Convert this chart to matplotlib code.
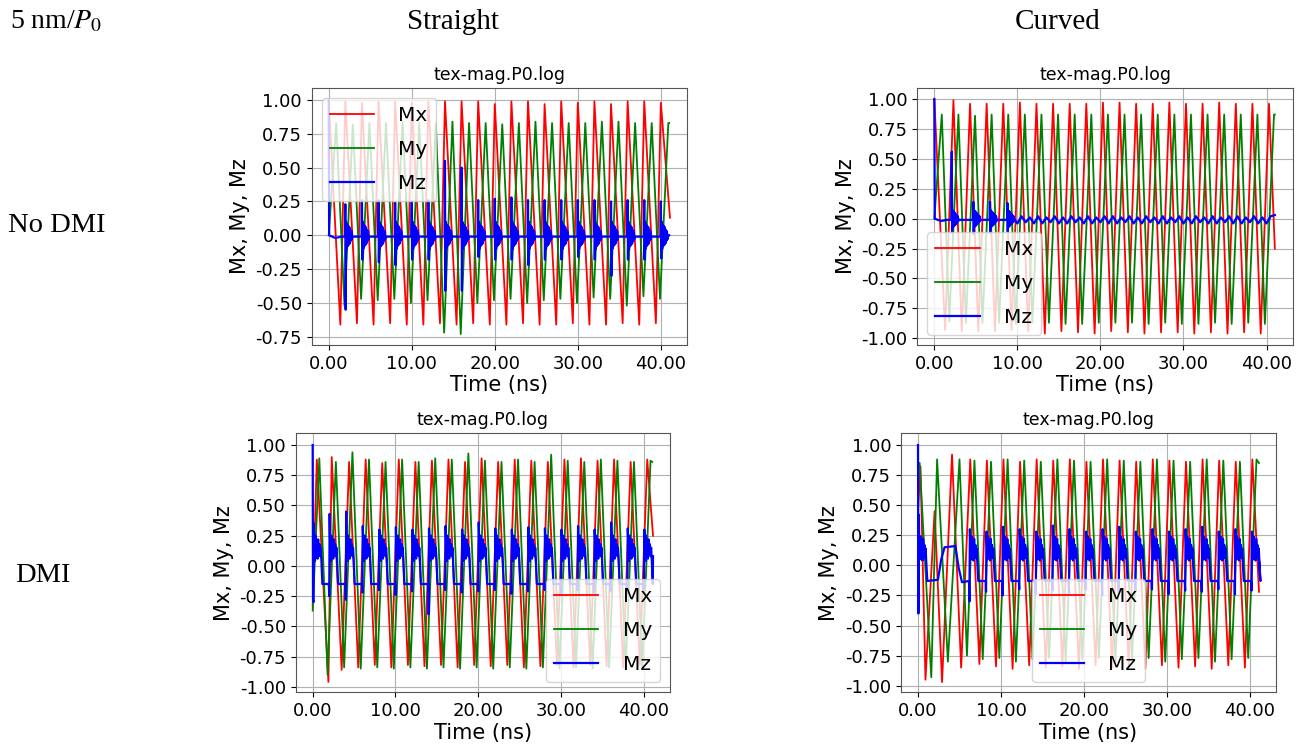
import matplotlib
matplotlib.use("Agg")
import matplotlib.pyplot as plt
import numpy as np

plt.rcParams["mathtext.fontset"] = "stix"

# ---------------- Straight, no DMI ----------------
a_mx_peak_t = [2.0, 4.0, 6.0, 8.0, 10.0, 12.0, 14.0, 16.0, 18.0, 20.0,
               22.0, 24.0, 26.0, 28.0, 30.0, 32.0, 34.0, 36.0, 38.0, 40.0]
a_mx_peak_v = [0.99, 0.98, 0.99, 0.99, 0.98, 0.99, 0.99, 0.99, 0.99, 0.97,
               0.99, 0.99, 0.97, 0.99, 0.98, 0.99, 0.97, 0.99, 0.99, 0.98]
a_mx_trough_t = [1.4, 3.4, 5.4, 7.4, 9.4, 11.4, 13.4, 15.4, 17.4, 19.4,
                 21.4, 23.4, 25.4, 27.4, 29.4, 31.4, 33.4, 35.4, 37.4, 39.4]
a_mx_trough_v = [-0.66, -0.65, -0.66, -0.65, -0.66, -0.66, -0.65, -0.66, -0.65, -0.66,
                 -0.66, -0.65, -0.66, -0.66, -0.65, -0.66, -0.66, -0.65, -0.66, -0.65]
a_mx_ends = [(0.0, 1.0), (41.1, 0.13)]

a_my_peak_t = [0.9, 2.9, 4.9, 6.9, 8.9, 10.9, 12.9, 14.9, 16.9, 18.9, 20.9,
               22.9, 24.9, 26.9, 28.9, 30.9, 32.9, 34.9, 36.9, 38.9, 40.9]
a_my_peak_v = [0.83, 0.82, 0.83, 0.83, 0.84, 0.83, 0.83, 0.84, 0.83, 0.83, 0.82,
               0.83, 0.84, 0.83, 0.83, 0.83, 0.84, 0.84, 0.83, 0.83, 0.83]
a_my_trough_t = [1.9, 3.9, 5.9, 7.9, 9.9, 11.9, 13.9, 15.9, 17.9, 19.9,
                 21.9, 23.9, 25.9, 27.9, 29.9, 31.9, 33.9, 35.9, 37.9, 39.9]
a_my_trough_v = [-0.52, -0.47, -0.48, -0.47, -0.50, -0.48, -0.72, -0.73, -0.50, -0.48,
                 -0.47, -0.50, -0.48, -0.47, -0.50, -0.46, -0.47, -0.52, -0.45, -0.47]
a_my_ends = [(0.0, 0.0), (41.0, 0.83)]

a_mz_event_t = [2.0, 4.0, 6.0, 8.0, 10.0, 12.0, 14.0, 16.0, 18.0, 20.0,
                22.0, 24.0, 26.0, 28.0, 30.0, 32.0, 34.0, 36.0, 38.0, 40.0]
a_mz_up = [0.23, 0.26, 0.26, 0.24, 0.25, 0.26, 0.55, 0.50, 0.26, 0.27,
           0.28, 0.26, 0.26, 0.26, 0.26, 0.26, 0.25, 0.26, 0.26, 0.25]
a_mz_down = [-0.55, -0.18, -0.20, -0.22, -0.18, -0.18, -0.41, -0.41, -0.16, -0.18,
             -0.18, -0.22, -0.18, -0.18, -0.16, -0.18, -0.30, -0.18, -0.18, -0.17]
a_mz_ring = [0.10, 0.08, 0.07, 0.06, 0.04, 0.03]
a_mz_start = [(0.0, 1.0), (0.05, 0.0), (0.8, -0.02), (1.5, -0.01)]
a_mz_end = (41.0, 0.0)

# ---------------- Curved, no DMI ----------------
b_mx_peak_t = [2.3, 4.3, 6.3, 8.3, 10.3, 12.3, 14.3, 16.3, 18.3, 20.3,
               22.3, 24.3, 26.3, 28.3, 30.3, 32.3, 34.3, 36.3, 38.3, 40.3]
b_mx_peak_v = [0.99, 0.96, 0.96, 0.96, 0.97, 0.96, 0.96, 0.96, 0.96, 0.97,
               0.97, 0.96, 0.96, 0.97, 0.96, 0.96, 0.97, 0.96, 0.96, 0.96]
b_mx_trough_t = [1.3, 3.3, 5.3, 7.3, 9.3, 11.3, 13.3, 15.3, 17.3, 19.3,
                 21.3, 23.3, 25.3, 27.3, 29.3, 31.3, 33.3, 35.3, 37.3, 39.3]
b_mx_trough_v = [-0.93, -0.94, -0.94, -0.94, -0.93, -0.94, -0.96, -0.94, -0.95, -0.96,
                 -0.94, -0.95, -0.96, -0.95, -0.95, -0.96, -0.95, -0.96, -0.95, -0.96]
b_mx_ends = [(0.0, 1.0), (41.0, -0.25)]

b_my_peak_t = [0.9, 2.9, 4.9, 6.9, 8.9, 10.9, 12.9, 14.9, 16.9, 18.9, 20.9,
               22.9, 24.9, 26.9, 28.9, 30.9, 32.9, 34.9, 36.9, 38.9, 40.9]
b_my_peak_v = [0.87, 0.87, 0.86, 0.87, 0.87, 0.87, 0.87, 0.87, 0.87, 0.87, 0.87,
               0.87, 0.87, 0.87, 0.87, 0.87, 0.87, 0.87, 0.87, 0.87, 0.87]
b_my_trough_t = [1.8, 3.8, 5.8, 7.8, 9.8, 11.8, 13.8, 15.8, 17.8, 19.8,
                 21.8, 23.8, 25.8, 27.8, 29.8, 31.8, 33.8, 35.8, 37.8, 39.8]
b_my_trough_v = [-0.86, -0.87, -0.87, -0.87, -0.88, -0.87, -0.87, -0.88, -0.88, -0.87,
                 -0.87, -0.87, -0.88, -0.87, -0.88, -0.88, -0.87, -0.88, -0.87, -0.88]
b_my_ends = [(0.0, 0.0), (41.0, 0.87)]

b_mz_event_t = [2.1, 4.7, 6.7, 8.8]
b_mz_up = [0.56, 0.14, 0.14, 0.13]
b_mz_down = [-0.12, -0.13, -0.12, -0.11]
b_mz_ring = [0.07, 0.06, 0.05, 0.04, 0.03, 0.02]
b_mz_start = [(0.0, 1.0), (0.05, 0.0), (0.8, -0.02), (1.5, -0.01)]
b_mz_ripple_t = np.arange(9.5, 41.01, 0.5)
b_mz_ripple_v = [0.01, -0.04, 0.02, -0.03, 0.01, -0.04, 0.02, -0.04, 0.01, -0.03,
                 0.02, -0.04, 0.01, -0.04, 0.02, -0.03, 0.01, -0.04, 0.02, -0.04,
                 0.01, -0.03, 0.02, -0.04, 0.02, -0.04, 0.01, -0.03, 0.02, -0.04,
                 0.01, -0.04, 0.02, -0.03, 0.01, -0.04, 0.02, -0.04, 0.01, -0.03,
                 0.02, -0.04, 0.01, -0.04, 0.02, -0.03, 0.01, -0.04, 0.02, -0.04,
                 0.01, -0.03, 0.02, -0.04, 0.02, -0.04, 0.01, -0.03, 0.02, -0.04,
                 0.01, -0.04, 0.02, 0.03]

# ---------------- Straight, DMI ----------------
c_mx_peak_t = [0.5, 2.3, 4.4, 6.4, 8.4, 10.4, 12.4, 14.4, 16.4, 18.4, 20.4,
               22.4, 24.4, 26.4, 28.4, 30.4, 32.4, 34.4, 36.4, 38.4, 40.4]
c_mx_peak_v = [0.88, 0.90, 0.86, 0.88, 0.85, 0.88, 0.86, 0.87, 0.88, 0.86, 0.89,
               0.86, 0.88, 0.87, 0.86, 0.88, 0.89, 0.87, 0.88, 0.86, 0.88]
c_mx_trough_t = [1.9, 3.5, 5.5, 7.5, 9.5, 11.5, 13.5, 15.5, 17.5, 19.5,
                 21.5, 23.5, 25.5, 27.5, 29.5, 31.5, 33.5, 35.5, 37.5, 39.5]
c_mx_trough_v = [-0.96, -0.86, -0.84, -0.82, -0.84, -0.82, -0.83, -0.82, -0.84, -0.82,
                 -0.83, -0.82, -0.84, -0.83, -0.82, -0.84, -0.82, -0.83, -0.84, -0.82]
c_mx_ends = [(0.0, -0.33), (41.1, 0.25)]

c_my_peak_t = [0.8, 2.8, 4.8, 6.8, 8.8, 10.8, 12.8, 14.8, 16.8, 18.8, 20.8,
               22.8, 24.8, 26.8, 28.8, 30.8, 32.8, 34.8, 36.8, 38.8, 40.8]
c_my_peak_v = [0.89, 0.86, 0.94, 0.88, 0.86, 0.88, 0.86, 0.89, 0.88, 0.93, 0.87,
               0.86, 0.88, 0.86, 0.92, 0.87, 0.86, 0.88, 0.87, 0.86, 0.87]
c_my_trough_t = [1.8, 3.8, 5.8, 7.8, 9.8, 11.8, 13.8, 15.8, 17.8, 19.8,
                 21.8, 23.8, 25.8, 27.8, 29.8, 31.8, 33.8, 35.8, 37.8, 39.8]
c_my_trough_v = [-0.90, -0.84, -0.85, -0.84, -0.85, -0.84, -0.85, -0.84, -0.85, -0.84,
                 -0.85, -0.84, -0.85, -0.84, -0.85, -0.84, -0.85, -0.84, -0.85, -0.84]
c_my_ends = [(0.0, -0.37), (41.0, 0.86)]

c_mz_burst_t = [0.1, 2.0, 4.0, 6.0, 8.0, 10.0, 12.0, 14.0, 16.0, 18.0, 20.0,
                22.0, 24.0, 26.0, 28.0, 30.0, 32.0, 34.0, 36.0, 38.0, 40.0]
c_mz_burst_top = [0.35, 0.43, 0.45, 0.33, 0.30, 0.32, 0.30, 0.31, 0.33, 0.30, 0.36,
                  0.31, 0.30, 0.32, 0.31, 0.30, 0.33, 0.30, 0.36, 0.31, 0.30]
c_mz_burst_low = [-0.30, -0.25, -0.28, -0.22, -0.20, -0.24, -0.21, -0.40, -0.20, -0.22, -0.21,
                  -0.20, -0.23, -0.21, -0.20, -0.24, -0.20, -0.22, -0.21, -0.23, -0.20]
c_mz_band = [0.22, 0.04, 0.25, 0.08, 0.20, 0.06, 0.22, 0.10, 0.18, 0.08, 0.15, 0.05]
c_mz_plateau = -0.15
c_mz_end = (41.1, 0.08)

# ---------------- Curved, DMI ----------------
d_mx_peak_t = [0.3, 2.0, 4.1, 6.3, 8.3, 10.3, 12.3, 14.3, 16.3, 18.3,
               20.3, 22.3, 24.3, 26.3, 28.3, 30.3, 32.3, 34.3, 36.3, 38.3, 40.3]
d_mx_peak_v = [0.82, 0.45, 0.92, 0.88, 0.87, 0.88, 0.86, 0.88, 0.87, 0.88,
               0.86, 0.88, 0.87, 0.86, 0.88, 0.87, 0.86, 0.88, 0.87, 0.86, 0.88]
d_mx_trough_t = [0.9, 2.9, 5.2, 7.4, 9.4, 11.4, 13.4, 15.4, 17.4, 19.4,
                 21.4, 23.4, 25.4, 27.4, 29.4, 31.4, 33.4, 35.4, 37.4, 39.4]
d_mx_trough_v = [-0.95, -0.97, -0.85, -0.82, -0.84, -0.86, -0.83, -0.85, -0.84, -0.86,
                 -0.83, -0.85, -0.84, -0.86, -0.83, -0.85, -0.84, -0.86, -0.83, -0.85]
d_mx_ends = [(0.0, 0.46), (41.1, -0.22)]

d_my_peak_t = [0.2, 2.3, 5.0, 6.8, 8.8, 10.8, 12.8, 14.8, 16.8, 18.8,
               20.8, 22.8, 24.8, 26.8, 28.8, 30.8, 32.8, 34.8, 36.8, 38.8, 40.8]
d_my_peak_v = [0.85, 0.88, 0.88, 0.87, 0.86, 0.88, 0.87, 0.86, 0.88, 0.87,
               0.86, 0.88, 0.87, 0.86, 0.88, 0.87, 0.86, 0.88, 0.87, 0.86, 0.88]
d_my_trough_t = [1.6, 3.6, 5.9, 7.8, 9.8, 11.8, 13.8, 15.8, 17.8, 19.8,
                 21.8, 23.8, 25.8, 27.8, 29.8, 31.8, 33.8, 35.8, 37.8, 39.8]
d_my_trough_v = [-0.93, -0.80, -0.75, -0.78, -0.77, -0.80, -0.78, -0.77, -0.80, -0.78,
                 -0.77, -0.80, -0.78, -0.77, -0.80, -0.78, -0.77, -0.80, -0.78, -0.77]
d_my_ends = [(0.0, 0.85), (41.1, 0.85)]

d_mz_burst_t = [0.05, 6.2, 8.2, 10.2, 12.2, 14.2, 16.2, 18.2, 20.2, 22.2,
                24.2, 26.2, 28.2, 30.2, 32.2, 34.2, 36.2, 38.2, 40.2]
d_mz_burst_top = [0.42, 0.30, 0.28, 0.32, 0.30, 0.28, 0.33, 0.30, 0.28, 0.30,
                  0.32, 0.28, 0.30, 0.28, 0.30, 0.32, 0.28, 0.30, 0.28]
d_mz_burst_low = [-0.40, -0.30, -0.22, -0.25, -0.20, -0.24, -0.21, -0.23, -0.20, -0.25,
                  -0.21, -0.22, -0.20, -0.24, -0.21, -0.22, -0.20, -0.24, -0.21]
d_mz_band = [0.20, 0.05, 0.24, 0.08, 0.18, 0.04, 0.22, 0.09, 0.17, 0.06, 0.14, 0.02]
d_mz_plateau = -0.13
d_mz_mid = [(2.4, -0.12), (2.8, 0.05), (3.2, 0.15), (4.5, 0.16), (4.9, -0.02), (5.3, -0.14)]
d_mz_end = (41.1, 0.05)


def wave(peak_t, peak_v, trough_t, trough_v, ends):
    t = np.concatenate([[p[0] for p in ends], peak_t, trough_t])
    v = np.concatenate([[p[1] for p in ends], peak_v, trough_v])
    order = np.argsort(t)
    return t[order], v[order]


def spikes(start, event_t, up, down, ring, end, ring_len=0.8):
    # sharp spike at each event followed by a short ringing tail
    pts = list(start)
    for te, u, d in zip(event_t, up, down):
        pts.append((te - 0.05, -0.01))
        pts.append((te, u))
        pts.append((te + 0.04, d))
        tt = np.linspace(te + 0.1, te + ring_len, 2 * len(ring))
        for i, r in enumerate(ring):
            pts.append((tt[2 * i], r))
            pts.append((tt[2 * i + 1], -r))
        pts.append((te + ring_len + 0.05, -0.01))
    pts.append(end)
    pts = np.array(pts)
    return pts[:, 0], pts[:, 1]


def bursts(burst_t, top, low, band, plateau, end, mid=(), first=None, dur=0.95):
    # noisy high segment, then a quiet plateau until the next burst
    pts = [] if first is None else list(first)
    for k, (tb, tp, lo) in enumerate(zip(burst_t, top, low)):
        pts.append((tb, lo))
        pts.append((tb + 0.05, tp))
        for tt, b in zip(np.linspace(tb + 0.1, tb + dur, len(band)), band):
            pts.append((tt, b))
        pts.append((tb + dur + 0.12, plateau))
        if k == 0:
            pts.extend(mid)
        if k + 1 < len(burst_t):
            pts.append((burst_t[k + 1] - 0.05, plateau))
    pts.append(end)
    pts = np.array(pts)
    return pts[:, 0], pts[:, 1]


panels = [
    dict(mx=wave(a_mx_peak_t, a_mx_peak_v, a_mx_trough_t, a_mx_trough_v, a_mx_ends),
         my=wave(a_my_peak_t, a_my_peak_v, a_my_trough_t, a_my_trough_v, a_my_ends),
         mz=spikes(a_mz_start, a_mz_event_t, a_mz_up, a_mz_down, a_mz_ring, a_mz_end),
         rect=[311.7, 88, 687, 345], ylim=(-0.811, 1.089), leg="upper left"),
    dict(mx=wave(b_mx_peak_t, b_mx_peak_v, b_mx_trough_t, b_mx_trough_v, b_mx_ends),
         my=wave(b_my_peak_t, b_my_peak_v, b_my_trough_t, b_my_trough_v, b_my_ends),
         mz=None,
         rect=[917.3, 88, 1292.7, 345], ylim=(-1.056, 1.092), leg="lower left"),
    dict(mx=wave(c_mx_peak_t, c_mx_peak_v, c_mx_trough_t, c_mx_trough_v, c_mx_ends),
         my=wave(c_my_peak_t, c_my_peak_v, c_my_trough_t, c_my_trough_v, c_my_ends),
         mz=bursts(c_mz_burst_t, c_mz_burst_top, c_mz_burst_low, c_mz_band, c_mz_plateau,
                   c_mz_end, first=[(0.0, 1.0), (0.04, -0.28)]),
         rect=[295.7, 433.3, 670, 692.3], ylim=(-1.046, 1.097), leg="lower right"),
    dict(mx=wave(d_mx_peak_t, d_mx_peak_v, d_mx_trough_t, d_mx_trough_v, d_mx_ends),
         my=wave(d_my_peak_t, d_my_peak_v, d_my_trough_t, d_my_trough_v, d_my_ends),
         mz=bursts(d_mz_burst_t, d_mz_burst_top, d_mz_burst_low, d_mz_band, d_mz_plateau,
                   d_mz_end, mid=d_mz_mid, first=[(0.0, 1.0)]),
         rect=[901, 433.3, 1276, 692.3], ylim=(-1.055, 1.097), leg="lower center"),
]

# curved / no DMI: one large kick, a few small ones, then a small ripple
bt, bv = spikes(b_mz_start, b_mz_event_t, b_mz_up, b_mz_down, b_mz_ring, (9.3, -0.01))
panels[1]["mz"] = (np.concatenate([bt, b_mz_ripple_t]), np.concatenate([bv, b_mz_ripple_v]))

W, H = 1304, 745
fig = plt.figure(figsize=(W / 100, H / 100), dpi=100)

for p in panels:
    x0, y0, x1, y1 = p["rect"]
    ax = fig.add_axes([x0 / W, 1 - y1 / H, (x1 - x0) / W, (y1 - y0) / H])
    ax.plot(*p["mx"], color="red", lw=1.3, label="Mx")
    ax.plot(*p["my"], color="green", lw=1.3, label="My")
    ax.plot(*p["mz"], color="blue", lw=1.6, label="Mz")
    ax.set_xlim(-2.05, 43.15)
    ax.set_ylim(*p["ylim"])
    ax.set_xticks([0, 10, 20, 30, 40])
    ax.xaxis.set_major_formatter(matplotlib.ticker.FormatStrFormatter("%.2f"))
    ax.yaxis.set_major_locator(matplotlib.ticker.MultipleLocator(0.25))
    ax.yaxis.set_major_formatter(matplotlib.ticker.FormatStrFormatter("%.2f"))
    ax.tick_params(labelsize=13)
    ax.grid(True, color="#b0b0b0", lw=0.8)
    for s in ax.spines.values():
        s.set_color("#555555")
    ax.set_title("tex-mag.P0.log", fontsize=12.5)
    ax.set_xlabel("Time (ns)", fontsize=15, labelpad=2)
    ax.set_ylabel("Mx, My, Mz", fontsize=15)
    ax.legend(loc=p["leg"], fontsize=14.5, handlelength=2.2, handletextpad=1.2,
              labelspacing=0.75)

serif = ["Liberation Serif", "DejaVu Serif"]
fig.text(10 / W, 1 - 22 / H, r"5 nm/$P_{\mathrm{0}}$", fontsize=20, family=serif, va="center")
fig.text(453 / W, 1 - 22 / H, "Straight", fontsize=21, family=serif, ha="center", va="center")
fig.text(1058 / W, 1 - 22 / H, "Curved", fontsize=21, family=serif, ha="center", va="center")
fig.text(8 / W, 1 - 225 / H, "No DMI", fontsize=20.5, family=serif, va="center")
fig.text(15 / W, 1 - 575 / H, "DMI", fontsize=20.5, family=serif, va="center")

fig.savefig("out.png", dpi=100)
